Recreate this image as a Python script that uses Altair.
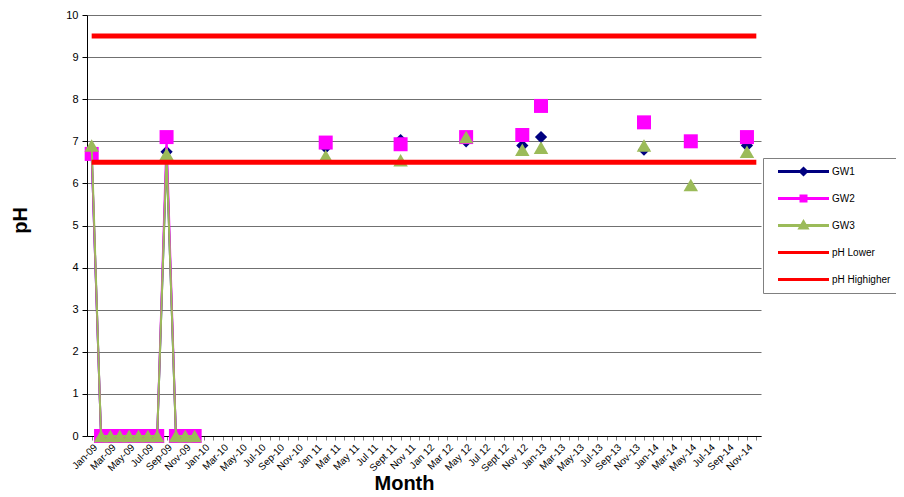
import json
import altair as alt
import pandas as pd

FONT = "Liberation Sans"

months = [
    "Jan-09", "Feb-09", "Mar-09", "Apr-09", "May-09", "Jun-09", "Jul-09", "Aug-09", "Sep-09", "Oct-09", "Nov-09", "Dec-09",
    "Jan-10", "Feb-10", "Mar-10", "Apr-10", "May-10", "Jun-10", "Jul-10", "Aug-10", "Sep-10", "Oct-10", "Nov-10", "Dec-10",
    "Jan 11", "Feb 11", "Mar 11", "Apr 11", "May 11", "Jun 11", "Jul 11", "Aug 11", "Sept 11", "Oct 11", "Nov 11", "Dec 11",
    "Jan 12", "Feb 12", "Mar 12", "Apr 12", "May 12", "Jun 12", "Jul 12", "Aug 12", "Sept 12", "Oct 12", "Nov 12", "Dec 12",
    "Jan-13", "Feb-13", "Mar-13", "Apr-13", "May-13", "Jun-13", "Jul-13", "Aug-13", "Sep-13", "Oct-13", "Nov-13", "Dec-13",
    "Jan-14", "Feb-14", "Mar-14", "Apr-14", "May-14", "Jun-14", "Jul-14", "Aug-14", "Sep-14", "Oct-14", "Nov-14", "Dec-14",
]

tick_labels = [
    "Jan-09", "Mar-09", "May-09", "Jul-09", "Sep-09", "Nov-09",
    "Jan-10", "Mar-10", "May-10", "Jul-10", "Sep-10", "Nov-10",
    "Jan 11", "Mar 11", "May 11", "Jul 11", "Sept 11", "Nov 11",
    "Jan 12", "Mar 12", "May 12", "Jul 12", "Sept 12", "Nov 12",
    "Jan-13", "Mar-13", "May-13", "Jul-13", "Sep-13", "Nov-13",
    "Jan-14", "Mar-14", "May-14", "Jul-14", "Sep-14", "Nov-14",
]

sample_months = [
    "Jan-09", "Feb-09", "Mar-09", "Apr-09", "May-09", "Jun-09", "Jul-09", "Aug-09", "Sep-09", "Oct-09", "Nov-09", "Dec-09",
    "Feb 11", "Oct 11", "May 12", "Nov 12", "Jan-13", "Dec-13", "May-14", "Nov-14",
]
gw1 = [6.7, 0, 0, 0, 0, 0, 0, 0, 6.75, 0, 0, 0, 6.85, 7.03, 7.0, 6.9, 7.1, 6.8, 7.0, 6.9]
gw2 = [6.7, 0, 0, 0, 0, 0, 0, 0, 7.1, 0, 0, 0, 6.97, 6.93, 7.1, 7.15, 7.84, 7.45, 7.0, 7.1]
gw3 = [6.9, 0, 0, 0, 0, 0, 0, 0, 6.7, 0, 0, 0, 6.65, 6.55, 7.1, 6.8, 6.85, 6.9, 5.96, 6.75]

ph_lower = 6.5
ph_upper = 9.5

series_names = ["GW1", "GW2", "GW3"]
series_colors = ["#000080", "#FF00FF", "#9BBB59"]
series_shapes = ["diamond", "square", "triangle-up"]
series_sizes = [150, 196, 210]

legend_names = ["GW1", "GW2", "GW3", "pH Lower", "pH Highigher"]
legend_colors = ["#000080", "#FF00FF", "#9BBB59", "#FF0000", "#FF0000"]
legend_paths = [
    "M0.3,0H10.5M5.4,-0.6L6,0L5.4,0.6L4.8,0Z",
    "M0.3,0H10.5M4.9,-0.5H5.9V0.5H4.9Z",
    "M0.3,0H10.5M5.4,-0.7L6.1,0.5L4.7,0.5Z",
    "M0.3,0H10.5",
    "M0.3,0H10.5",
]

# ---- build tables
rows = []
for name, vals in zip(series_names, [gw1, gw2, gw3]):
    lut = dict(zip(sample_months, vals))
    for i, m in enumerate(months):
        rows.append({"month": m, "idx": i, "series": name, "value": lut.get(m)})
df = pd.DataFrame(rows)

th_rows = []
for name, v in [("pH Lower", ph_lower), ("pH Highigher", ph_upper)]:
    for m in [months[0], months[-1]]:
        th_rows.append({"month": m, "idx": months.index(m), "series": name, "value": v})
df_th = pd.DataFrame(th_rows)

df_leg = pd.DataFrame({"name": legend_names})

label_expr = "indexof(" + json.dumps(tick_labels) + ", datum.value) >= 0 ? datum.value : ''"

x_enc = alt.X(
    "month:O",
    sort=months,
    scale=alt.Scale(domain=months, padding=0.5),
    axis=alt.Axis(
        title="Month", labelAngle=-45, labelExpr=label_expr, labelOverlap=False,
        labelFont=FONT, labelFontSize=10, labelColor="black", labelPadding=2,
        tickColor="#808080", tickSize=4, domainColor="black", grid=False,
        titleFont=FONT, titleFontSize=20, titleFontWeight="bold", titleColor="black",
        titleX=317, titleY=47, titleAlign="center", titleBaseline="middle",
    ),
)
y_enc = alt.Y(
    "value:Q",
    scale=alt.Scale(domain=[0, 10], nice=False),
    axis=alt.Axis(
        title="pH", values=list(range(11)), grid=True, gridColor="#707070",
        tickColor="black", tickSize=5, domainColor="black",
        labelFont=FONT, labelFontSize=11, labelColor="black", labelPadding=4,
        titleFont=FONT, titleFontSize=20, titleFontWeight="bold", titleColor="black",
        titleX=-67, titleY=205, titleAlign="center", titleBaseline="middle",
    ),
)

layers = []
for name, col, shp, sz in zip(series_names, series_colors, series_shapes, series_sizes):
    base = alt.Chart(df).transform_filter(alt.datum.series == name)
    line = base.mark_line(color=col, strokeWidth=2, invalid="break-paths-show-domains").encode(
        x=x_enc, y=y_enc, order=alt.Order("idx:Q")
    )
    pts = base.transform_filter("isValid(datum.value)").mark_point(
        filled=True, color=col, shape=shp, size=sz, opacity=1
    ).encode(x=x_enc, y=y_enc)
    layers += [line, pts]

thresh = alt.Chart(df_th).mark_line(color="#FF0000", strokeWidth=5).encode(
    x=x_enc, y=y_enc, detail="series:N", order=alt.Order("idx:Q")
)
layers.append(thresh)

leg = alt.Legend(
    orient="none", legendX=676, legendY=143, direction="vertical", title=None,
    strokeColor="#808080", fillColor="white", padding=7, gridAlign="all",
    labelFont=FONT, labelFontSize=10, labelColor="black", labelOffset=49,
    symbolSize=100, symbolStrokeWidth=3, rowPadding=8,
)
legend_layer = alt.Chart(df_leg).mark_point(filled=True, size=100, strokeWidth=3, opacity=1).encode(
    x=alt.value(-300), y=alt.value(-300),
    color=alt.Color("name:N", scale=alt.Scale(domain=legend_names, range=legend_colors), legend=leg),
    stroke=alt.Stroke("name:N", scale=alt.Scale(domain=legend_names, range=legend_colors), legend=leg),
    shape=alt.Shape("name:N", scale=alt.Scale(domain=legend_names, range=legend_paths), legend=leg),
)
layers.append(legend_layer)

chart = alt.layer(*layers).properties(
    width=674, height=421,
    autosize=alt.AutoSizeParams(type="none"),
    padding={"left": 79, "top": 7, "right": 135, "bottom": 58},
    background="white",
).configure_view(strokeWidth=0)

chart.save("out.html", embed_options={"renderer": "svg", "actions": False})
